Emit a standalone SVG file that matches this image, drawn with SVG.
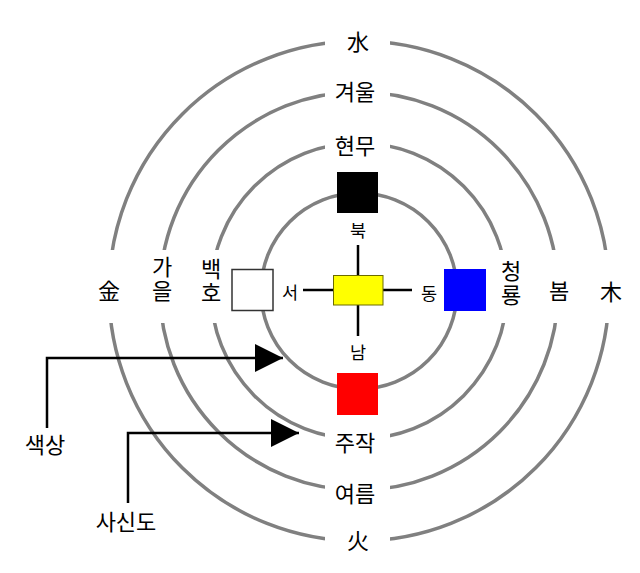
<svg xmlns="http://www.w3.org/2000/svg" width="640" height="573" viewBox="0 0 640 573">
<defs>
<style>
.ring{fill:none;stroke:#808080;stroke-width:3.5}
.bg{fill:#fff;stroke:none}
.t{font-family:"Noto Sans CJK KR","Noto Sans",sans-serif;font-size:22px;fill:#000;text-anchor:middle;dominant-baseline:central}
.v{writing-mode:vertical-rl;text-orientation:upright;letter-spacing:2.5px}
.s{font-size:17.5px}
.ln{stroke:#000;stroke-width:2.5;fill:none}
</style>
<marker id="ah" markerUnits="userSpaceOnUse" markerWidth="28" markerHeight="28" refX="28" refY="14" orient="auto">
<path d="M0,0 L28,14 L0,28 Z" fill="#000"/>
</marker>
</defs>
<rect width="640" height="573" fill="#fff"/>
<g id="rings">
<circle class="ring" cx="359" cy="291" r="250"/>
<circle class="ring" cx="359" cy="291" r="199"/>
<circle class="ring" cx="359" cy="291" r="148"/>
<circle class="ring" cx="359" cy="291" r="98"/>
</g>
<g id="label-backgrounds">
<rect class="bg" x="325" y="26" width="65" height="30"/>
<rect class="bg" x="325" y="77" width="65" height="30"/>
<rect class="bg" x="325" y="128" width="65" height="30"/>
<rect class="bg" x="325" y="424" width="65" height="30"/>
<rect class="bg" x="325" y="475" width="65" height="30"/>
<rect class="bg" x="325" y="526" width="65" height="30"/>
<rect class="bg" x="94" y="250" width="30" height="73"/>
<rect class="bg" x="145" y="250" width="30" height="73"/>
<rect class="bg" x="196" y="250" width="30" height="73"/>
<rect class="bg" x="492" y="250" width="30" height="73"/>
<rect class="bg" x="543" y="250" width="30" height="73"/>
<rect class="bg" x="594" y="250" width="30" height="73"/>
</g>
<g id="connectors">
<line class="ln" x1="358" y1="245" x2="358" y2="275"/>
<line class="ln" x1="358" y1="305" x2="358" y2="336"/>
<line class="ln" x1="303" y1="290" x2="333" y2="290"/>
<line class="ln" x1="383" y1="290" x2="412" y2="290"/>
<polyline class="ln" points="47,428 47,358 283,358" marker-end="url(#ah)"/>
<polyline class="ln" points="128,503 128,433 299,433" marker-end="url(#ah)"/>
</g>
<g id="node-center"><rect x="333.5" y="275.5" width="49.5" height="29.5" fill="#ff0" stroke="#6b6b00" stroke-width="1"/></g>
<g id="node-hyeonmu"><rect x="337" y="172" width="41" height="41" fill="#000"/></g>
<g id="node-jujak"><rect x="337" y="373" width="41" height="42" fill="#f00"/></g>
<g id="node-baekho"><rect x="232" y="269.5" width="41" height="41" fill="#fff" stroke="#333" stroke-width="1.5"/></g>
<g id="node-cheongryong"><rect x="444" y="269" width="42" height="42" fill="#00f"/></g>
<g id="labels">
<text class="t" x="358" y="40">水</text>
<text class="t" x="355" y="90">겨울</text>
<text class="t" x="355" y="144">현무</text>
<text class="t" x="355" y="441">주작</text>
<text class="t" x="355" y="492">여름</text>
<text class="t" x="358" y="539">火</text>
<text class="t" x="109" y="289">金</text>
<text class="t v" x="162" y="280">가을</text>
<text class="t v" x="211" y="282">백호</text>
<text class="t v" x="511" y="284">청룡</text>
<text class="t" x="559" y="289">봄</text>
<text class="t" x="611" y="290">木</text>
<text class="t s" x="358" y="229">북</text>
<text class="t s" x="358" y="351">남</text>
<text class="t s" x="290" y="291">서</text>
<text class="t s" x="429" y="292">동</text>
<text class="t" x="45" y="443">색상</text>
<text class="t" x="126" y="520">사신도</text>
</g>
</svg>
